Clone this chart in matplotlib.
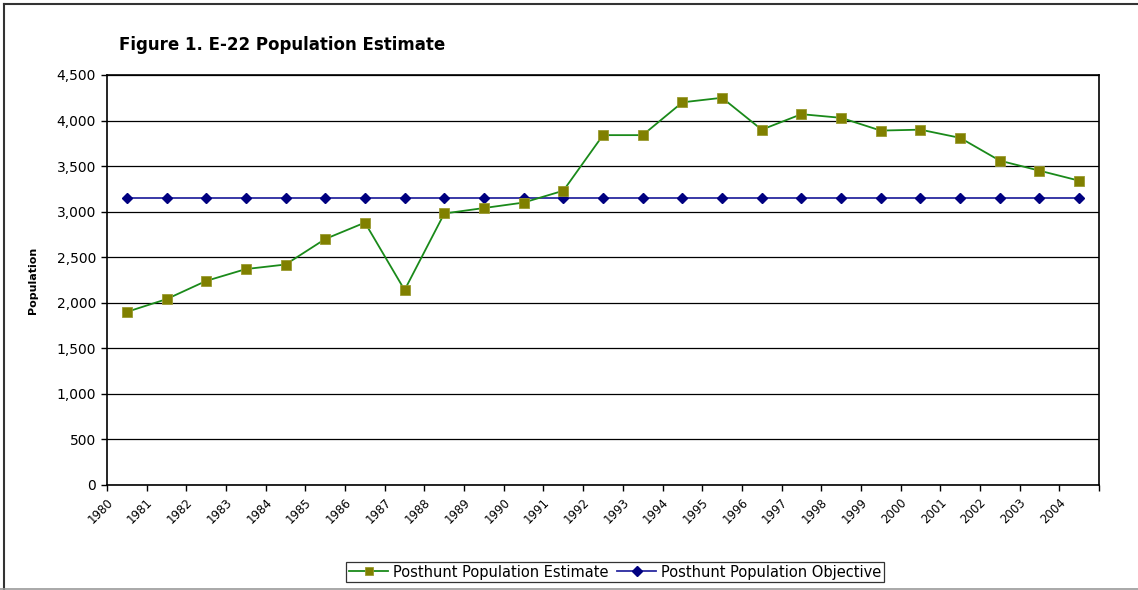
import matplotlib
matplotlib.use("Agg")
import matplotlib.pyplot as plt
from matplotlib.lines import Line2D

# the reference text is horizontally stretched Arial; DejaVu's wider glyphs get closer
plt.rcParams["font.family"] = ["DejaVu Sans"]

# --- data ------------------------------------------------------------------
years = [str(y) for y in range(1980, 2005)]
estimate = [1900, 2040, 2240, 2370, 2420, 2700, 2880, 2140, 2980, 3040,
            3100, 3230, 3840, 3840, 4200, 4250, 3900, 4070, 4030, 3890,
            3900, 3810, 3560, 3450, 3340]
objective = [3150] * len(years)
y_ticks = list(range(0, 4501, 500))

fig = plt.figure(figsize=(11.38, 5.9), dpi=100)
ax = fig.add_axes([107 / 1138, 1 - 485 / 590, (1099 - 107) / 1138, (485 - 75) / 590])

x = [i + 0.5 for i in range(len(years))]
ax.plot(x, estimate, color="#1a8a1a", lw=1.3, marker="s", ms=7.5,
        mfc="#808000", mec="#9a9a30", mew=0.6, label="Posthunt Population Estimate", zorder=4)
ax.plot(x, objective, color="#2a2aa0", lw=1.3, marker="D", ms=5.5,
        mfc="#000080", mec="#000080", label="Posthunt Population Objective", zorder=3)

ax.set_xlim(0, len(years))
ax.set_ylim(0, 4500)
ax.set_yticks(y_ticks)
ax.set_yticklabels([f"{v:,}" for v in y_ticks], fontsize=10)
ax.yaxis.grid(True, color="black", lw=0.9)
ax.set_axisbelow(True)

# tick marks on category boundaries, labels just right of them
ax.set_xticks(range(len(years) + 1), minor=True)
ax.set_xticks([i + 0.22 for i in range(len(years))])
ax.set_xticklabels(years, rotation=45, ha="right", va="top",
                   rotation_mode="default", fontsize=8.5)
ax.tick_params(axis="x", which="major", length=0, pad=8)
ax.tick_params(axis="x", which="minor", length=4, width=1, direction="out")
ax.tick_params(axis="y", length=4, width=1, direction="out", pad=4)
for s in ax.spines.values():
    s.set_linewidth(1.2)
    s.set_color("black")

ax.set_ylabel("Population", fontsize=8, fontweight="bold", labelpad=13)
fig.text(119 / 1138, 1 - 45 / 590, "Figure 1. E-22 Population Estimate",
         fontsize=12, fontweight="bold", ha="left", va="center")

leg = fig.legend(loc="center", bbox_to_anchor=(615 / 1138, 1 - 572 / 590),
                 ncol=2, fontsize=10.5, frameon=True, fancybox=False,
                 handlelength=2.7, columnspacing=0.6, handletextpad=0.3,
                 borderpad=0.2, markerscale=0.85)
leg.get_frame().set_edgecolor("black")
leg.get_frame().set_linewidth(0.9)

# outer chart border
fig.add_artist(Line2D([4 / 1138, 4 / 1138], [0, 1 - 4 / 590], color="#333333", lw=1.5,
                      transform=fig.transFigure))
fig.add_artist(Line2D([4 / 1138, 1], [1 - 4 / 590, 1 - 4 / 590], color="#333333", lw=1.5,
                      transform=fig.transFigure))
fig.add_artist(Line2D([0, 1], [1.5 / 590, 1.5 / 590], color="#999999", lw=1.2,
                      transform=fig.transFigure))

fig.savefig("out.png", dpi=100)
